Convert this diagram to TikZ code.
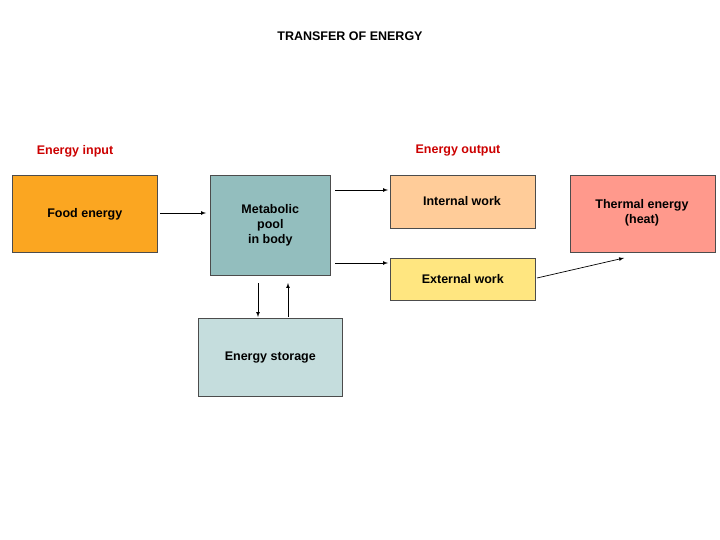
\documentclass[tikz,border=0pt]{standalone}
\usepackage{fontspec}
\setmainfont{Liberation Sans}
\begin{document}
\begin{tikzpicture}[x=1pt,y=-1pt,
 box/.style={draw=black!70,line width=0.6pt,anchor=north west,inner sep=0pt,align=center,font=\bfseries\fontsize{12.5}{15}\selectfont},
 arr/.style={-latex,line width=0.7pt},
 lab/.style={font=\bfseries\fontsize{12.5}{15}\selectfont,text=red!80!black}]
\useasboundingbox (0,0) rectangle (720,540);
\node[font=\bfseries\fontsize{12.5}{15}\selectfont] (t) at (350,36) {TRANSFER OF ENERGY};
\node[lab] (li) at (75,151) {Energy input};
\node[lab] (lo) at (458,151) {Energy output};
\node[box,fill={rgb,255:red,251;green,166;blue,33},minimum width=145pt,minimum height=77pt] (food) at (12,175) {Food energy};
\node[box,fill={rgb,255:red,147;green,190;blue,190},minimum width=120pt,minimum height=100pt] (met) at (210,175) {Metabolic\\pool\\in body};
\node[box,fill={rgb,255:red,255;green,204;blue,153},minimum width=145pt,minimum height=53pt] (int) at (390,175) {};
\node[font=\bfseries\fontsize{12.5}{15}\selectfont] (intl) at (462,201) {Internal work};
\node[box,fill={rgb,255:red,255;green,230;blue,128},minimum width=145pt,minimum height=42pt] (ext) at (390,258) {External work};
\node[box,fill={rgb,255:red,255;green,153;blue,140},minimum width=145pt,minimum height=77pt] (th) at (570,175) {};
\node[font=\bfseries\fontsize{12.5}{15}\selectfont,align=center] (thl) at (642,213) {Thermal energy\\(heat)};
\node[box,fill={rgb,255:red,197;green,221;blue,221},minimum width=144pt,minimum height=78pt] (st) at (198,318) {Energy storage};
\coordinate (a1) at (160,213); \coordinate (a2) at (206,213);
\draw[arr] (a1) -- (a2);
\coordinate (b1) at (335,190); \coordinate (b2) at (388,190);
\draw[arr] (b1) -- (b2);
\coordinate (c1) at (335,263); \coordinate (c2) at (388,263);
\draw[arr] (c1) -- (c2);
\coordinate (d1) at (537,278); \coordinate (d2) at (624,258);
\draw[arr] (d1) -- (d2);
\coordinate (e1) at (258,283); \coordinate (e2) at (258,317);
\draw[arr] (e1) -- (e2);
\coordinate (f1) at (288,317); \coordinate (f2) at (288,283);
\draw[arr] (f1) -- (f2);
\end{tikzpicture}
\end{document}
